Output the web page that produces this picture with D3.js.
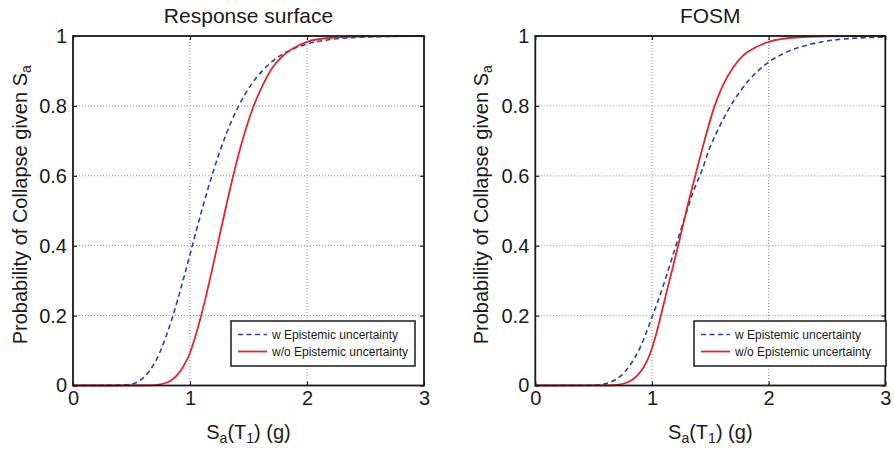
<!DOCTYPE html>
<html lang="en">
<head>
<meta charset="utf-8">
<title>Collapse fragility</title>
<script src="https://d3js.org/d3.v7.min.js"></script>
<style>
  body { margin: 0; background: #fff; }
  text { font-family: "Liberation Sans", Arial, Helvetica, sans-serif; fill: #1a1a1a; }
</style>
</head>
<body>
<div id="chart"></div>
<script>
// values
var xTicks = [0, 1, 2, 3];
var yTicks = [0, 0.2, 0.4, 0.6, 0.8, 1];
var yTickLabels = ["0", "0.2", "0.4", "0.6", "0.8", "1"];
var titles = ["Response surface", "FOSM"];
var legendLabels = ["w Epistemic uncertainty", "w/o Epistemic uncertainty"];

// Response surface panel
var rsWithSa = [0, 0.4, 0.5, 0.57, 0.65, 0.74, 0.80, 0.85, 0.90, 0.95, 1.0, 1.05, 1.10, 1.15, 1.20, 1.25, 1.30, 1.35, 1.41, 1.47, 1.54, 1.62, 1.71, 1.80, 1.88, 2.0, 2.2, 2.5, 3.0];
var rsWithP  = [0, 0.0005, 0.004, 0.014, 0.040, 0.093, 0.145, 0.195, 0.252, 0.312, 0.375, 0.438, 0.50, 0.559, 0.614, 0.665, 0.711, 0.753, 0.796, 0.833, 0.869, 0.901, 0.929, 0.950, 0.963, 0.977, 0.990, 0.997, 1.0];
var rsWithoutSa = [0, 0.6, 0.66, 0.72, 0.77, 0.83, 0.886, 0.94, 1.0, 1.05, 1.094, 1.14, 1.19, 1.24, 1.30, 1.37, 1.45, 1.54, 1.62, 1.71, 1.80, 1.88, 2.0, 2.2, 2.5, 3.0];
var rsWithoutP  = [0, 0.0001, 0.0005, 0.002, 0.005, 0.013, 0.028, 0.053, 0.093, 0.145, 0.198, 0.26, 0.333, 0.409, 0.50, 0.601, 0.703, 0.796, 0.858, 0.912, 0.945, 0.964, 0.983, 0.995, 0.999, 1.0];

// FOSM panel
var fosmWithSa = [0, 0.45, 0.5, 0.56, 0.64, 0.72, 0.81, 0.90, 0.95, 1.0, 1.05, 1.10, 1.15, 1.20, 1.25, 1.30, 1.36, 1.425, 1.49, 1.56, 1.66, 1.754, 1.84, 1.925, 2.0, 2.154, 2.354, 2.6, 3.0];
var fosmWithP  = [0, 0.0002, 0.0007, 0.0025, 0.009, 0.024, 0.057, 0.110, 0.150, 0.195, 0.240, 0.289, 0.341, 0.395, 0.448, 0.50, 0.56, 0.612, 0.675, 0.728, 0.792, 0.841, 0.877, 0.905, 0.925, 0.954, 0.976, 0.990, 0.997];
var fosmWithoutSa = [0, 0.6, 0.7, 0.754, 0.81, 0.869, 0.93, 0.983, 1.03, 1.069, 1.12, 1.18, 1.235, 1.295, 1.375, 1.45, 1.53, 1.61, 1.70, 1.78, 1.87, 2.0, 2.2, 2.5, 3.0];
var fosmWithoutP  = [0, 0.0003, 0.002, 0.005, 0.012, 0.027, 0.053, 0.09, 0.14, 0.19, 0.26, 0.34, 0.415, 0.50, 0.605, 0.70, 0.793, 0.86, 0.912, 0.944, 0.964, 0.983, 0.995, 0.999, 1.0];

var width = 894, height = 450;
var plotTop = 36, plotBottom = 385.5;

var panels = [
  { title: titles[0], left: 73, right: 424, ylabX: 20, legX: 231, legW: 184,
    series: [{ x: rsWithSa, y: rsWithP, dashed: true }, { x: rsWithoutSa, y: rsWithoutP, dashed: false }] },
  { title: titles[1], left: 535.3, right: 885.3, ylabX: 481, legX: 694, legW: 192,
    series: [{ x: fosmWithSa, y: fosmWithP, dashed: true }, { x: fosmWithoutSa, y: fosmWithoutP, dashed: false }] }
];

var blue = "#2c3fa8", red = "#e3262b";

var svg = d3.select("#chart").append("svg")
  .attr("width", width)
  .attr("height", height);

svg.append("rect").attr("width", width).attr("height", height).attr("fill", "#fff");

panels.forEach(function(p) {
  var x = d3.scaleLinear().domain([0, 3]).range([p.left, p.right]);
  var y = d3.scaleLinear().domain([0, 1]).range([plotBottom, plotTop]);
  var g = svg.append("g");

  // dotted grid
  g.selectAll(".vgrid").data(xTicks.slice(1, -1)).enter().append("line")
    .attr("x1", d => x(d)).attr("x2", d => x(d))
    .attr("y1", plotTop).attr("y2", plotBottom)
    .attr("stroke", "#8c8c8c").attr("stroke-width", 1).attr("stroke-dasharray", "1,2");
  g.selectAll(".hgrid").data(yTicks.slice(1, -1)).enter().append("line")
    .attr("x1", p.left).attr("x2", p.right)
    .attr("y1", d => y(d)).attr("y2", d => y(d))
    .attr("stroke", "#8c8c8c").attr("stroke-width", 1).attr("stroke-dasharray", "1,2");

  // curves
  var line = d3.line().x(d => x(d[0])).y(d => y(d[1])).curve(d3.curveMonotoneX);
  p.series.forEach(function(s) {
    g.append("path")
      .datum(d3.zip(s.x, s.y))
      .attr("d", line)
      .attr("fill", "none")
      .attr("stroke", s.dashed ? blue : red)
      .attr("stroke-width", s.dashed ? 1.6 : 1.8)
      .attr("stroke-dasharray", s.dashed ? "5,3.5" : null);
  });

  // axes, ticks pointing inward
  var xAxis = g.append("g").attr("transform", `translate(0,${plotBottom})`)
    .call(d3.axisBottom(x).tickValues(xTicks).tickSizeInner(-4).tickSizeOuter(0).tickPadding(5)
      .tickFormat(d3.format("d")));
  var xTop = g.append("g").attr("transform", `translate(0,${plotTop})`)
    .call(d3.axisTop(x).tickValues(xTicks).tickSizeInner(-4).tickSizeOuter(0).tickFormat(""));
  var yAxis = g.append("g").attr("transform", `translate(${p.left},0)`)
    .call(d3.axisLeft(y).tickValues(yTicks).tickSizeInner(-4).tickSizeOuter(0).tickPadding(6)
      .tickFormat((d, i) => yTickLabels[i]));
  var yRight = g.append("g").attr("transform", `translate(${p.right},0)`)
    .call(d3.axisRight(y).tickValues(yTicks).tickSizeInner(-4).tickSizeOuter(0).tickFormat(""));

  [xAxis, xTop, yAxis, yRight].forEach(function(a) {
    a.select(".domain").remove();
    a.selectAll(".tick line").attr("stroke", "#1a1a1a").attr("stroke-width", 1.2);
    a.selectAll("text").attr("font-size", 20).attr("fill", "#1a1a1a")
      .style("font-family", '"Liberation Sans", Arial, sans-serif');
  });
  xAxis.selectAll("text").attr("dy", "0.73em");

  // frame
  g.append("rect")
    .attr("x", p.left).attr("y", plotTop)
    .attr("width", p.right - p.left).attr("height", plotBottom - plotTop)
    .attr("fill", "none").attr("stroke", "#1a1a1a").attr("stroke-width", 1.8);

  // title
  g.append("text")
    .attr("x", (p.left + p.right) / 2).attr("y", 23)
    .attr("text-anchor", "middle").attr("font-size", 21)
    .text(p.title);

  // x label
  var xl = g.append("text")
    .attr("x", (p.left + p.right) / 2).attr("y", 439)
    .attr("text-anchor", "middle").attr("font-size", 20);
  xl.append("tspan").text("S");
  xl.append("tspan").attr("font-size", 14).attr("dy", 4).text("a");
  xl.append("tspan").attr("dy", -4).text("(T");
  xl.append("tspan").attr("font-size", 14).attr("dy", 4).text("1");
  xl.append("tspan").attr("dy", -4).text(") (g)");

  // y label
  var yl = g.append("text")
    .attr("transform", `translate(${p.ylabX + 7},${(plotTop + plotBottom) / 2 - 6}) rotate(-90)`)
    .attr("text-anchor", "middle").attr("font-size", 20);
  yl.append("tspan").text("Probability of Collapse given S");
  yl.append("tspan").attr("font-size", 14).attr("dy", 4).text("a");

  // legend
  var lg = g.append("g").attr("transform", `translate(${p.legX},321)`);
  lg.append("rect").attr("width", p.legW).attr("height", 45)
    .attr("fill", "#fff").attr("stroke", "#1a1a1a").attr("stroke-width", 1.5);
  p.series.forEach(function(s, i) {
    var ly = 13.5 + i * 17;
    lg.append("line")
      .attr("x1", 7).attr("x2", 36).attr("y1", ly).attr("y2", ly)
      .attr("stroke", s.dashed ? blue : red)
      .attr("stroke-width", s.dashed ? 1.6 : 1.8)
      .attr("stroke-dasharray", s.dashed ? "5,3.5" : null);
    lg.append("text")
      .attr("x", 41).attr("y", ly).attr("dy", "0.35em")
      .attr("font-size", 12).text(legendLabels[i]);
  });
});
</script>
</body>
</html>
